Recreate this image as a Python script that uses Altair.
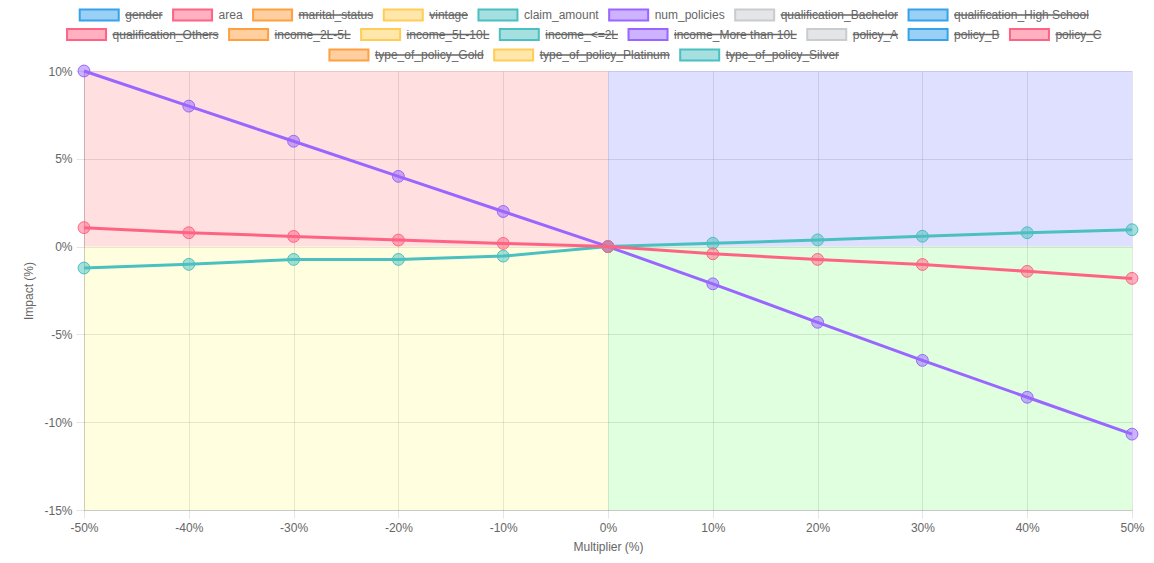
import altair as alt
import pandas as pd

# ---------------- data ----------------
multipliers = [-50, -40, -30, -20, -10, 0, 10, 20, 30, 40, 50]
area = [1.08, 0.79, 0.58, 0.37, 0.18, 0.0, -0.41, -0.73, -1.02, -1.41, -1.81]
claim_amount = [-1.22, -1.01, -0.73, -0.73, -0.54, 0.0, 0.19, 0.38, 0.59, 0.79, 0.96]
num_policies = [10.0, 8.0, 6.0, 4.0, 2.0, 0.0, -2.12, -4.31, -6.48, -8.58, -10.68]

legend_labels = [
    "gender", "area", "marital_status", "vintage", "claim_amount", "num_policies",
    "qualification_Bachelor", "qualification_High School", "qualification_Others",
    "income_2L-5L", "income_5L-10L", "income_<=2L", "income_More than 10L",
    "policy_A", "policy_B", "policy_C", "type_of_policy_Gold",
    "type_of_policy_Platinum", "type_of_policy_Silver",
]
legend_visible = ["area", "claim_amount", "num_policies"]

palette = [
    (54, 162, 235), (255, 99, 132), (255, 159, 64), (255, 205, 86),
    (75, 192, 192), (153, 102, 255), (201, 203, 207),
]

x_ticks = [-50, -40, -30, -20, -10, 0, 10, 20, 30, 40, 50]
y_ticks = [-15, -10, -5, 0, 5, 10]

quad_x1 = [-50, 0, -50, 0]
quad_x2 = [0, 50, 0, 50]
quad_y1 = [0, 0, -15, -15]
quad_y2 = [10, 10, 0, 0]
quad_colors = ["rgba(255,0,0,0.125)", "rgba(0,0,255,0.125)",
               "rgba(255,255,0,0.125)", "rgba(0,255,0,0.125)"]

FONT = "Liberation Sans, Helvetica, Arial, sans-serif"

# ---------------- layout helpers ----------------
PLOT_W, PLOT_H = 1048, 439
PAD_L, PAD_T, PAD_R, PAD_B = 76, 63, 14, 45
PAGE_OFF_X, PAGE_OFF_Y = 8 + PAD_L, 8 + PAD_T

arial = {
    ' ': 278, '-': 333, '_': 556, '<': 584, '=': 584, '0': 556, '1': 556, '2': 556,
    '5': 556, 'A': 667, 'B': 667, 'C': 722, 'G': 778, 'H': 722, 'L': 556, 'M': 833,
    'O': 778, 'P': 667, 'S': 667, 'a': 556, 'b': 556, 'c': 500, 'd': 556, 'e': 556,
    'f': 278, 'g': 556, 'h': 556, 'i': 222, 'j': 222, 'k': 500, 'l': 222, 'm': 833,
    'n': 556, 'o': 556, 'p': 556, 'q': 556, 'r': 333, 's': 500, 't': 278, 'u': 556,
    'v': 500, 'w': 722, 'x': 500, 'y': 500, 'z': 500,
}


def text_width(s, size=12):
    return sum(arial.get(c, 556) for c in s) * size / 1000.0


def rgba(c, a):
    return f"rgba({c[0]},{c[1]},{c[2]},{a})"


BOX_W, GAP, ITEM_PAD, MAX_W = 40, 6, 10, 1138
CENTER_X = 584
ROW_YS = [15.0, 34.5, 55.0]

items = []
for i, lab in enumerate(legend_labels):
    w = BOX_W + GAP + text_width(lab)
    items.append((lab, palette[i % len(palette)], w))

rows, cur, cur_w = [], [], 0
for it in items:
    add = it[2] + ITEM_PAD
    if cur and cur_w + add > MAX_W:
        rows.append(cur)
        cur, cur_w = [], 0
    cur.append(it)
    cur_w += add
if cur:
    rows.append(cur)

leg_rows = []
for r, row in enumerate(rows):
    content = sum(it[2] for it in row) + ITEM_PAD * (len(row) - 1)
    x = CENTER_X - content / 2
    cy = ROW_YS[min(r, len(ROW_YS) - 1)]
    for lab, col, w in row:
        px = x - PAGE_OFF_X
        py = cy - PAGE_OFF_Y
        tx = px + BOX_W + GAP
        leg_rows.append({
            "label": lab, "bx": px + 0.5, "bx2": px + BOX_W - 0.5,
            "by": py - 5.5, "by2": py + 5.5, "ty": py,
            "tx": tx, "tx2": tx + text_width(lab),
            "fill": rgba(col, 0.5), "stroke": rgba(col, 1),
            "hidden": lab not in legend_visible,
        })
        x += w + ITEM_PAD
leg = pd.DataFrame(leg_rows)

# ---------------- chart ----------------
xscale = alt.Scale(domain=[-50, 50], nice=False, zero=False)
yscale = alt.Scale(domain=[-15, 10], nice=False, zero=False)

xaxis = alt.Axis(values=x_ticks, labelExpr="datum.value + '%'", title="Multiplier (%)")
yaxis = alt.Axis(values=y_ticks, labelExpr="datum.value + '%'", title="Impact (%)")

quad_df = pd.DataFrame({"x1": quad_x1, "x2": quad_x2, "y1": quad_y1,
                        "y2": quad_y2, "c": quad_colors})
quads = alt.Chart(quad_df).mark_rect().encode(
    x=alt.X("x1:Q", scale=xscale, axis=xaxis),
    x2="x2:Q",
    y=alt.Y("y1:Q", scale=yscale, axis=yaxis),
    y2="y2:Q",
    fill=alt.Fill("c:N", scale=None),
)

series = [("num_policies", num_policies, palette[5]),
          ("claim_amount", claim_amount, palette[4]),
          ("area", area, palette[1])]

layers = [quads]
for name, vals, col in series:
    df = pd.DataFrame({"m": multipliers, "v": vals, "s": name})
    base = alt.Chart(df).encode(
        x=alt.X("m:Q", scale=xscale, axis=xaxis),
        y=alt.Y("v:Q", scale=yscale, axis=yaxis),
    )
    layers.append(base.mark_line(color=rgba(col, 1), strokeWidth=3))
    layers.append(base.mark_circle(size=140, fill=rgba(col, 0.5), stroke=rgba(col, 1),
                                   strokeWidth=1, opacity=1))

main = alt.layer(*layers)

lbase = alt.Chart(leg)
boxes = lbase.mark_rect(strokeWidth=2).encode(
    x=alt.X("bx:Q", scale=None, axis=None), x2="bx2:Q",
    y=alt.Y("by:Q", scale=None, axis=None), y2="by2:Q",
    fill=alt.Fill("fill:N", scale=None, legend=None),
    stroke=alt.Stroke("stroke:N", scale=None, legend=None),
)
texts = lbase.mark_text(align="left", baseline="middle", fontSize=12, font=FONT,
                        color="#666").encode(
    x=alt.X("tx:Q", scale=None, axis=None),
    y=alt.Y("ty:Q", scale=None, axis=None),
    text="label:N",
)
strikes = lbase.transform_filter("datum.hidden").mark_rule(color="#666", strokeWidth=1.5).encode(
    x=alt.X("tx:Q", scale=None, axis=None), x2="tx2:Q",
    y=alt.Y("ty:Q", scale=None, axis=None),
)
legend_layer = alt.layer(boxes, texts, strikes)

chart = alt.layer(main, legend_layer).resolve_scale(
    x="independent", y="independent"
).properties(
    width=PLOT_W, height=PLOT_H,
    autosize=alt.AutoSizeParams(type="none"),
    padding={"left": PAD_L, "top": PAD_T, "right": PAD_R, "bottom": PAD_B},
).configure_view(stroke=None).configure_axis(
    gridColor="rgba(0,0,0,0.1)", domainColor="rgba(0,0,0,0.12)",
    tickColor="rgba(0,0,0,0.1)", tickSize=8, labelPadding=4, labelFlush=False,
    labelColor="#666", labelFontSize=12, labelFont=FONT,
    titleColor="#666", titleFontSize=12, titleFont=FONT,
    titleFontWeight="normal", titlePadding=8,
)

chart.save("out.html", embed_options={"renderer": "svg", "actions": False})
